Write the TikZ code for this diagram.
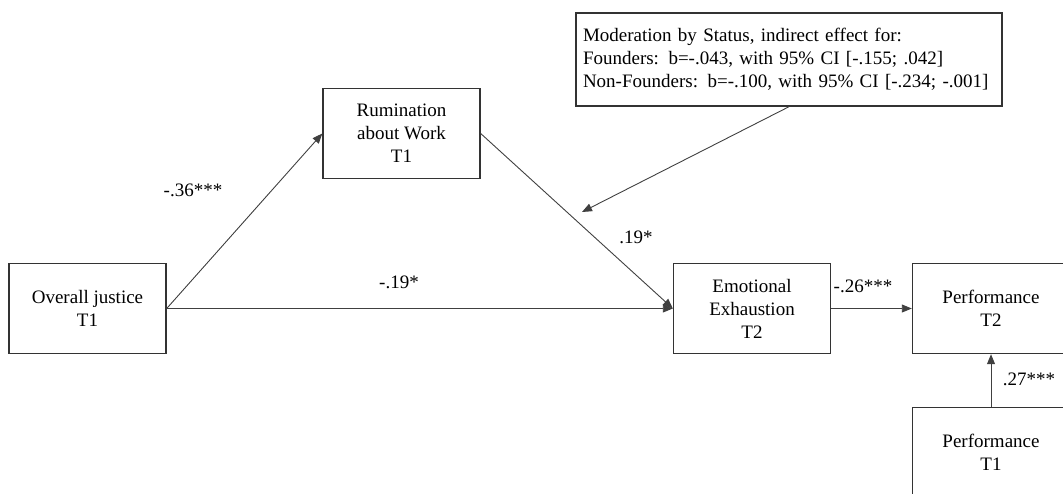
\documentclass[tikz,border=0pt]{standalone}
\usepackage{fontspec}
\setmainfont{Liberation Serif}
\usetikzlibrary{arrows.meta}
\tikzset{
	caja/.style={draw=black!80,line width=0.7pt,minimum width=78.5pt,minimum height=45pt,align=center,inner sep=2pt},
	flecha/.style={draw=black!75,line width=0.45pt,-{Triangle[length=5pt,width=4pt]}},
}
\begin{document}
\begin{tikzpicture}[x=0.5pt,y=-0.5pt,font=\fontsize{9.5}{11.5}\selectfont]
	\path[use as bounding box,clip] (0,0) rectangle (1063,493);
	% las variables
	\foreach \Nodo/\Xc/\Yc/\Texto in 
	{oj/87.5/308.5/{Overall justice\\T1},rum/401.5/133.5/{Rumination\\about Work\\T1},ee/752/308.5/{Emotional\\Exhaustion\\T2},perfB/991/308.5/{Performance\\T2},perfA/991/452.5/{Performance\\T1}}
	{
		\node[caja] (\Nodo) at (\Xc,\Yc) {\Texto};
	}
	\node[caja,align=left,text width=206pt,inner xsep=3.5pt,minimum height=46.5pt] (mod) at (789,59.5)
	{Moderation by Status, indirect effect for:\\Founders: b=-.043, with 95\% CI [-.155; .042]\\Non-Founders: b=-.100, with 95\% CI [-.234; -.001]};
	\coordinate (modfin) at (582,212);
	% los caminos
	\foreach \Desde/\Hasta in 
	{oj.east/rum.west,oj.east/ee.west,rum.east/ee.west,ee.east/perfB.west,perfA.north/perfB.south,mod.south/modfin}
	{
		\draw[flecha] (\Desde) -- (\Hasta);
	}
	\foreach \Nodo/\Xc/\Yc/\Texto in 
	{l36/193/190/-.36***,l19a/399/282/-.19*,l19b/636/237/.19*,l26/863/286/-.26***,l27/1029/379/.27***}
	{
		\node (\Nodo) at (\Xc,\Yc) {\Texto};
	}
\end{tikzpicture}
\end{document}
